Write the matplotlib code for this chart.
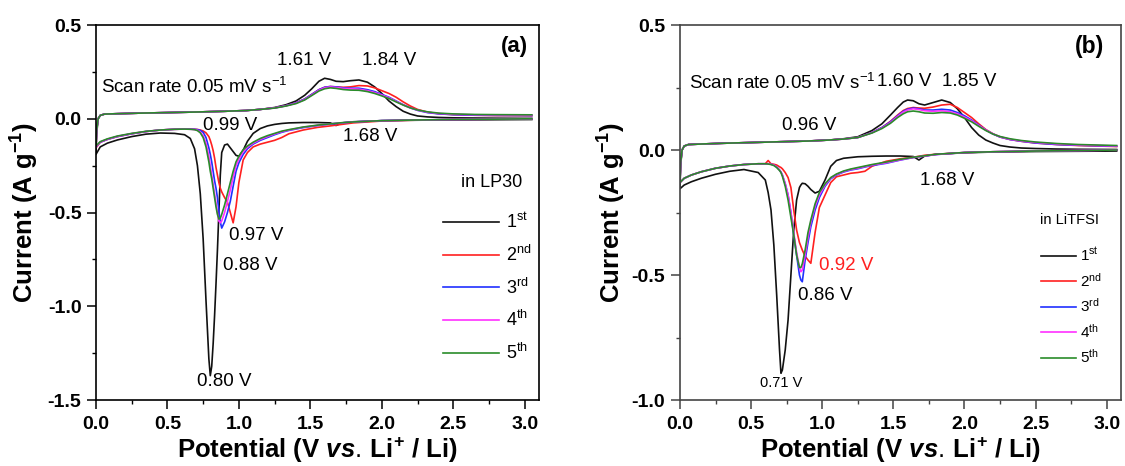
import matplotlib
matplotlib.use("Agg")
import matplotlib.pyplot as plt
from matplotlib.ticker import MultipleLocator, FormatStrFormatter

plt.rcParams['font.family'] = ['Liberation Sans', 'DejaVu Sans']
plt.rcParams['axes.unicode_minus'] = False
plt.rcParams['mathtext.fontset'] = 'custom'
plt.rcParams['mathtext.rm'] = 'Liberation Sans'
plt.rcParams['mathtext.it'] = 'Liberation Sans:italic:bold'
plt.rcParams['mathtext.bf'] = 'Liberation Sans:bold'

cycles = ['1$^{\\mathrm{st}}$', '2$^{\\mathrm{nd}}$', '3$^{\\mathrm{rd}}$',
          '4$^{\\mathrm{th}}$', '5$^{\\mathrm{th}}$']
colors = ['#111111', '#ff2020', '#2030ff', '#ff30ff', '#2a8c2a']

# ---------- panel (a): LP30 ----------
a_cat_v = [3.05, 2.8, 2.5, 2.2, 2.0, 1.8, 1.72, 1.68, 1.64, 1.55,
           1.45, 1.35, 1.3, 1.25, 1.2, 1.15, 1.1, 1.06, 1.03, 1.0,
           0.98, 0.96, 0.94, 0.92, 0.9, 0.88, 0.87, 0.86, 0.85, 0.84,
           0.83, 0.82, 0.81, 0.80, 0.79, 0.77, 0.75, 0.73, 0.71, 0.69,
           0.66, 0.62, 0.55, 0.45, 0.35, 0.25, 0.15, 0.08, 0.03, 0.0]
a_cat_1 = [-0.004, -0.005, -0.006, -0.008, -0.01, -0.016, -0.022, -0.036, -0.022, -0.02,
           -0.02, -0.022, -0.025, -0.03, -0.038, -0.052, -0.078, -0.12, -0.168, -0.2,
           -0.195, -0.175, -0.155, -0.135, -0.14, -0.18, -0.3, -0.5, -0.7, -0.88,
           -1.05, -1.2, -1.32, -1.37, -1.28, -0.97, -0.64, -0.4, -0.25, -0.16,
           -0.105, -0.085, -0.078, -0.076, -0.082, -0.095, -0.113, -0.13, -0.15, -0.19]
a_cat_2 = [-0.001, -0.002, -0.004, -0.008, -0.012, -0.022, -0.03, -0.034, -0.038, -0.046,
           -0.06, -0.08, -0.1, -0.115, -0.125, -0.135, -0.15, -0.18, -0.22, -0.34,
           -0.47, -0.555, -0.5, -0.445, -0.42, -0.39, -0.37, -0.34, -0.3, -0.26,
           -0.21, -0.17, -0.14, -0.115, -0.095, -0.075, -0.065, -0.06, -0.057, -0.056,
           -0.055, -0.055, -0.056, -0.06, -0.068, -0.08, -0.095, -0.11, -0.125, -0.155]
a_cat_3 = [0.0, -0.002, -0.004, -0.007, -0.01, -0.017, -0.022, -0.025, -0.028, -0.036,
           -0.047, -0.062, -0.072, -0.085, -0.1, -0.115, -0.135, -0.16, -0.19, -0.235,
           -0.28, -0.36, -0.44, -0.5, -0.55, -0.583, -0.55, -0.49, -0.42, -0.37,
           -0.33, -0.28, -0.23, -0.19, -0.155, -0.1, -0.072, -0.062, -0.058, -0.056,
           -0.055, -0.055, -0.056, -0.06, -0.068, -0.08, -0.095, -0.11, -0.125, -0.15]
a_cat_4 = [0.0, -0.002, -0.004, -0.007, -0.01, -0.017, -0.022, -0.024, -0.027, -0.035,
           -0.045, -0.06, -0.069, -0.081, -0.095, -0.11, -0.13, -0.152, -0.175, -0.215,
           -0.25, -0.31, -0.38, -0.44, -0.5, -0.545, -0.555, -0.545, -0.5, -0.45,
           -0.4, -0.35, -0.3, -0.25, -0.2, -0.13, -0.09, -0.07, -0.061, -0.057,
           -0.056, -0.055, -0.056, -0.06, -0.068, -0.079, -0.094, -0.109, -0.124, -0.15]
a_cat_5 = [0.0, -0.002, -0.004, -0.007, -0.01, -0.017, -0.021, -0.024, -0.027, -0.034,
           -0.044, -0.058, -0.066, -0.078, -0.09, -0.105, -0.125, -0.145, -0.165, -0.2,
           -0.23, -0.28, -0.34, -0.4, -0.46, -0.51, -0.53, -0.535, -0.51, -0.47,
           -0.42, -0.37, -0.32, -0.28, -0.23, -0.15, -0.1, -0.075, -0.063, -0.058,
           -0.056, -0.055, -0.056, -0.06, -0.067, -0.078, -0.092, -0.107, -0.122, -0.145]

a_an_v = [0.0, 0.005, 0.015, 0.03, 0.06, 0.15, 0.3, 0.5, 0.7, 0.9,
          1.05, 1.15, 1.25, 1.33, 1.4, 1.46, 1.51, 1.56, 1.6, 1.64,
          1.68, 1.73, 1.78, 1.84, 1.9, 1.95, 2.0, 2.05, 2.1, 2.15,
          2.2, 2.25, 2.32, 2.4, 2.5, 2.65, 2.8, 3.05]
a_an_1 = [-0.19, -0.08, 0.0, 0.018, 0.025, 0.027, 0.03, 0.033, 0.036, 0.04,
          0.044, 0.05, 0.06, 0.075, 0.095, 0.125, 0.16, 0.2, 0.216, 0.21,
          0.2, 0.198, 0.203, 0.207, 0.195, 0.17, 0.135, 0.095, 0.065, 0.04,
          0.025, 0.015, 0.01, 0.007, 0.005, 0.004, 0.003, 0.002]
a_an_2 = [-0.155, -0.06, 0.0, 0.018, 0.025, 0.027, 0.03, 0.033, 0.036, 0.04,
          0.044, 0.05, 0.058, 0.07, 0.085, 0.105, 0.13, 0.155, 0.168, 0.172,
          0.17, 0.168, 0.17, 0.177, 0.175, 0.165, 0.15, 0.135, 0.115, 0.09,
          0.068, 0.05, 0.035, 0.027, 0.022, 0.019, 0.017, 0.016]
a_an_3 = [-0.15, -0.06, 0.0, 0.018, 0.025, 0.027, 0.03, 0.033, 0.036, 0.04,
          0.044, 0.05, 0.058, 0.07, 0.085, 0.105, 0.13, 0.155, 0.168, 0.172,
          0.17, 0.165, 0.163, 0.163, 0.155, 0.145, 0.13, 0.115, 0.095, 0.075,
          0.058, 0.045, 0.033, 0.026, 0.022, 0.019, 0.018, 0.017]
a_an_4 = [-0.15, -0.06, 0.0, 0.018, 0.025, 0.027, 0.03, 0.033, 0.036, 0.04,
          0.044, 0.05, 0.058, 0.069, 0.083, 0.102, 0.127, 0.152, 0.165, 0.17,
          0.167, 0.162, 0.16, 0.158, 0.15, 0.14, 0.127, 0.112, 0.093, 0.074,
          0.058, 0.046, 0.035, 0.028, 0.024, 0.021, 0.02, 0.019]
a_an_5 = [-0.145, -0.06, 0.0, 0.018, 0.025, 0.027, 0.03, 0.033, 0.036, 0.04,
          0.044, 0.05, 0.057, 0.068, 0.081, 0.1, 0.124, 0.148, 0.16, 0.165,
          0.162, 0.156, 0.153, 0.152, 0.145, 0.135, 0.122, 0.108, 0.09, 0.073,
          0.058, 0.047, 0.037, 0.03, 0.026, 0.023, 0.022, 0.021]

# ---------- panel (b): LiTFSI ----------
b_cat_v = [3.07, 2.8, 2.5, 2.2, 2.0, 1.8, 1.72, 1.68, 1.64, 1.55,
           1.45, 1.35, 1.3, 1.25, 1.2, 1.15, 1.1, 1.06, 1.02, 0.98,
           0.95, 0.92, 0.9, 0.88, 0.86, 0.85, 0.84, 0.82, 0.8, 0.78,
           0.76, 0.74, 0.72, 0.71, 0.70, 0.68, 0.66, 0.64, 0.62, 0.6,
           0.55, 0.45, 0.35, 0.25, 0.15, 0.08, 0.03, 0.0]
b_cat_1 = [-0.004, -0.005, -0.006, -0.008, -0.011, -0.017, -0.024, -0.04, -0.026, -0.024,
           -0.024, -0.025, -0.026, -0.027, -0.03, -0.033, -0.042, -0.065, -0.12, -0.165,
           -0.172, -0.158, -0.145, -0.135, -0.133, -0.14, -0.15, -0.2, -0.32, -0.5,
           -0.68, -0.8, -0.88, -0.893, -0.8, -0.58, -0.38, -0.24, -0.17, -0.12,
           -0.09, -0.078, -0.085, -0.097, -0.113, -0.127, -0.14, -0.155]
b_cat_2 = [0.0, -0.002, -0.004, -0.007, -0.01, -0.017, -0.021, -0.025, -0.029, -0.035,
           -0.045, -0.065, -0.085, -0.09, -0.093, -0.1, -0.107, -0.13, -0.18, -0.23,
           -0.33, -0.453, -0.44, -0.425, -0.4, -0.385, -0.37, -0.32, -0.24, -0.15,
           -0.11, -0.09, -0.075, -0.07, -0.067, -0.06, -0.057, -0.055, -0.042, -0.055,
           -0.055, -0.058, -0.064, -0.073, -0.087, -0.1, -0.113, -0.13]
b_cat_3 = [0.0, -0.002, -0.004, -0.007, -0.01, -0.018, -0.024, -0.027, -0.03, -0.04,
           -0.053, -0.062, -0.068, -0.075, -0.08, -0.088, -0.1, -0.115, -0.145, -0.19,
           -0.24, -0.307, -0.37, -0.44, -0.527, -0.52, -0.5, -0.42, -0.34, -0.25,
           -0.18, -0.135, -0.1, -0.088, -0.08, -0.068, -0.06, -0.057, -0.055, -0.055,
           -0.055, -0.058, -0.064, -0.073, -0.087, -0.1, -0.113, -0.13]
b_cat_4 = [0.0, -0.002, -0.004, -0.007, -0.01, -0.018, -0.024, -0.027, -0.03, -0.039,
           -0.051, -0.06, -0.066, -0.073, -0.078, -0.086, -0.098, -0.112, -0.14, -0.18,
           -0.225, -0.29, -0.35, -0.42, -0.48, -0.487, -0.47, -0.41, -0.33, -0.25,
           -0.18, -0.135, -0.1, -0.088, -0.08, -0.068, -0.06, -0.057, -0.055, -0.055,
           -0.055, -0.058, -0.064, -0.073, -0.087, -0.1, -0.113, -0.13]
b_cat_5 = [0.0, -0.002, -0.004, -0.007, -0.01, -0.017, -0.023, -0.026, -0.029, -0.037,
           -0.048, -0.058, -0.064, -0.07, -0.076, -0.084, -0.096, -0.11, -0.135, -0.17,
           -0.215, -0.28, -0.33, -0.4, -0.455, -0.47, -0.47, -0.42, -0.34, -0.27,
           -0.2, -0.145, -0.105, -0.09, -0.082, -0.07, -0.062, -0.058, -0.056, -0.055,
           -0.055, -0.058, -0.064, -0.073, -0.087, -0.1, -0.113, -0.13]

b_an_v = [0.0, 0.005, 0.015, 0.03, 0.06, 0.15, 0.3, 0.5, 0.7, 0.9,
          1.05, 1.15, 1.25, 1.35, 1.42, 1.48, 1.53, 1.57, 1.6, 1.64,
          1.68, 1.72, 1.78, 1.84, 1.9, 1.95, 2.0, 2.05, 2.1, 2.15,
          2.2, 2.25, 2.32, 2.4, 2.5, 2.65, 2.8, 3.07]
b_an_1 = [-0.155, -0.06, 0.0, 0.016, 0.022, 0.024, 0.027, 0.03, 0.033, 0.036,
          0.04, 0.045, 0.053, 0.078, 0.105, 0.14, 0.17, 0.192, 0.2, 0.197,
          0.185, 0.18, 0.19, 0.2, 0.19, 0.165, 0.13, 0.09, 0.06, 0.04,
          0.028, 0.018, 0.012, 0.008, 0.006, 0.004, 0.003, 0.002]
b_an_2 = [-0.13, -0.05, 0.0, 0.016, 0.022, 0.024, 0.027, 0.03, 0.033, 0.036,
          0.04, 0.044, 0.05, 0.07, 0.09, 0.115, 0.14, 0.158, 0.166, 0.17,
          0.168, 0.167, 0.172, 0.18, 0.183, 0.17, 0.15, 0.13, 0.105, 0.082,
          0.065, 0.052, 0.042, 0.035, 0.028, 0.022, 0.018, 0.014]
b_an_3 = [-0.13, -0.05, 0.0, 0.016, 0.022, 0.024, 0.027, 0.03, 0.033, 0.036,
          0.04, 0.044, 0.05, 0.07, 0.09, 0.113, 0.137, 0.155, 0.163, 0.168,
          0.165, 0.16, 0.16, 0.163, 0.16, 0.15, 0.137, 0.12, 0.1, 0.08,
          0.064, 0.052, 0.042, 0.035, 0.028, 0.022, 0.019, 0.015]
b_an_4 = [-0.13, -0.05, 0.0, 0.016, 0.022, 0.024, 0.027, 0.03, 0.033, 0.036,
          0.04, 0.044, 0.05, 0.069, 0.088, 0.11, 0.134, 0.152, 0.16, 0.165,
          0.162, 0.157, 0.155, 0.157, 0.153, 0.145, 0.132, 0.117, 0.098, 0.08,
          0.065, 0.053, 0.043, 0.036, 0.03, 0.024, 0.02, 0.016]
b_an_5 = [-0.13, -0.05, 0.0, 0.016, 0.022, 0.024, 0.027, 0.03, 0.033, 0.036,
          0.04, 0.044, 0.05, 0.068, 0.086, 0.107, 0.13, 0.145, 0.153, 0.156,
          0.153, 0.148, 0.147, 0.15, 0.148, 0.14, 0.127, 0.113, 0.095, 0.078,
          0.064, 0.054, 0.045, 0.038, 0.032, 0.026, 0.022, 0.018]

fig = plt.figure(figsize=(11.25, 4.66), dpi=100)
ax_a = fig.add_axes([0.0853, 0.1416, 0.3938, 0.8047])
ax_b = fig.add_axes([0.6044, 0.1416, 0.392, 0.8047])


def style_axis(ax, ylim, yticks, spine_col):
    ax.set_xlim(0, 3.1)
    ax.set_ylim(*ylim)
    ax.set_yticks(yticks)
    ax.xaxis.set_major_locator(MultipleLocator(0.5))
    ax.xaxis.set_minor_locator(MultipleLocator(0.25))
    ax.yaxis.set_minor_locator(MultipleLocator(0.25))
    ax.xaxis.set_major_formatter(FormatStrFormatter('%.1f'))
    ax.yaxis.set_major_formatter(FormatStrFormatter('%.1f'))
    ax.tick_params(which='major', direction='out', length=6.5, width=1.1,
                   labelsize=14, pad=4, color=spine_col)
    ax.tick_params(which='minor', direction='out', length=3, width=1.0,
                   color=spine_col)
    ax.tick_params(axis='x', which='major', pad=5)
    for lab in ax.get_xticklabels() + ax.get_yticklabels():
        lab.set_fontweight('bold')
    for s in ax.spines.values():
        s.set_linewidth(1.2)
        s.set_color(spine_col)
    ax.set_xlabel('Potential (V $\\mathit{vs.}\\,$Li$^{\\mathbf{+}}$ / Li)',
                  fontsize=18.5, fontweight='bold')
    ax.set_ylabel('Current (A g$^{\\mathbf{-1}}$)', fontsize=18.5,
                  fontweight='bold')
    ax.xaxis.set_label_coords(0.5, -0.095)


# panel (a)
a_cat = [a_cat_1, a_cat_2, a_cat_3, a_cat_4, a_cat_5]
a_an = [a_an_1, a_an_2, a_an_3, a_an_4, a_an_5]
for i in range(5):
    ax_a.plot(a_cat_v + a_an_v, a_cat[i] + a_an[i], color=colors[i],
              lw=1.2, label=cycles[i])
style_axis(ax_a, (-1.5, 0.5), [-1.5, -1.0, -0.5, 0.0, 0.5], 'black')
ax_a.yaxis.set_label_coords(-0.125, 0.5)

ax_a.text(2.93, 0.385, '(a)', fontsize=16, fontweight='bold',
          ha='center', va='center')
ax_a.text(0.036, 0.171, 'Scan rate 0.05 mV s$^{\\mathrm{-1}}$', fontsize=13.5,
          ha='left', va='center')
ax_a.text(1.46, 0.313, '1.61 V', fontsize=13.5, ha='center', va='center')
ax_a.text(2.05, 0.313, '1.84 V', fontsize=13.5, ha='center', va='center')
ax_a.text(0.94, -0.034, '0.99 V', fontsize=13.5, ha='center', va='center')
ax_a.text(1.92, -0.096, '1.68 V', fontsize=13.5, ha='center', va='center')
ax_a.text(2.77, -0.341, 'in LP30', fontsize=13, ha='center', va='center')
ax_a.text(1.12, -0.62, '0.97 V', fontsize=13.5, ha='center', va='center')
ax_a.text(1.08, -0.78, '0.88 V', fontsize=13.5, ha='center', va='center')
ax_a.text(0.90, -1.40, '0.80 V', fontsize=13.5, ha='center', va='center')

ax_a.legend(loc='upper left', bbox_to_anchor=(0.784, 0.5), frameon=False,
            fontsize=13, handlelength=3.1, handletextpad=0.4,
            labelspacing=0.7, borderpad=0, borderaxespad=0)

# panel (b)
b_cat = [b_cat_1, b_cat_2, b_cat_3, b_cat_4, b_cat_5]
b_an = [b_an_1, b_an_2, b_an_3, b_an_4, b_an_5]
for i in range(5):
    ax_b.plot(b_cat_v + b_an_v, b_cat[i] + b_an[i], color=colors[i],
              lw=1.2, label=cycles[i])
style_axis(ax_b, (-1.0, 0.5), [-1.0, -0.5, 0.0, 0.5], '#444444')
ax_b.yaxis.set_label_coords(-0.117, 0.5)

ax_b.text(2.88, 0.413, '(b)', fontsize=16.5, fontweight='bold',
          ha='center', va='center')
ax_b.text(0.0625, 0.27, 'Scan rate 0.05 mV s$^{\\mathrm{-1}}$', fontsize=13.5,
          ha='left', va='center')
ax_b.text(1.575, 0.273, '1.60 V', fontsize=13.5, ha='center', va='center')
ax_b.text(2.03, 0.273, '1.85 V', fontsize=13.5, ha='center', va='center')
ax_b.text(0.91, 0.10, '0.96 V', fontsize=13.5, ha='center', va='center')
ax_b.text(1.88, -0.12, '1.68 V', fontsize=13.5, ha='center', va='center')
ax_b.text(2.74, -0.28, 'in LiTFSI', fontsize=10.5, ha='center', va='center')
ax_b.text(1.17, -0.46, '0.92 V', fontsize=13.5, ha='center', va='center',
          color='#ff2020')
ax_b.text(1.02, -0.58, '0.86 V', fontsize=13.5, ha='center', va='center')
ax_b.text(0.71, -0.933, '0.71 V', fontsize=10.5, ha='center', va='center')

ax_b.legend(loc='upper left', bbox_to_anchor=(0.819, 0.41), frameon=False,
            fontsize=11, handlelength=2.3, handletextpad=0.25,
            labelspacing=0.5, borderpad=0, borderaxespad=0)

fig.savefig('out.png', dpi=100)
